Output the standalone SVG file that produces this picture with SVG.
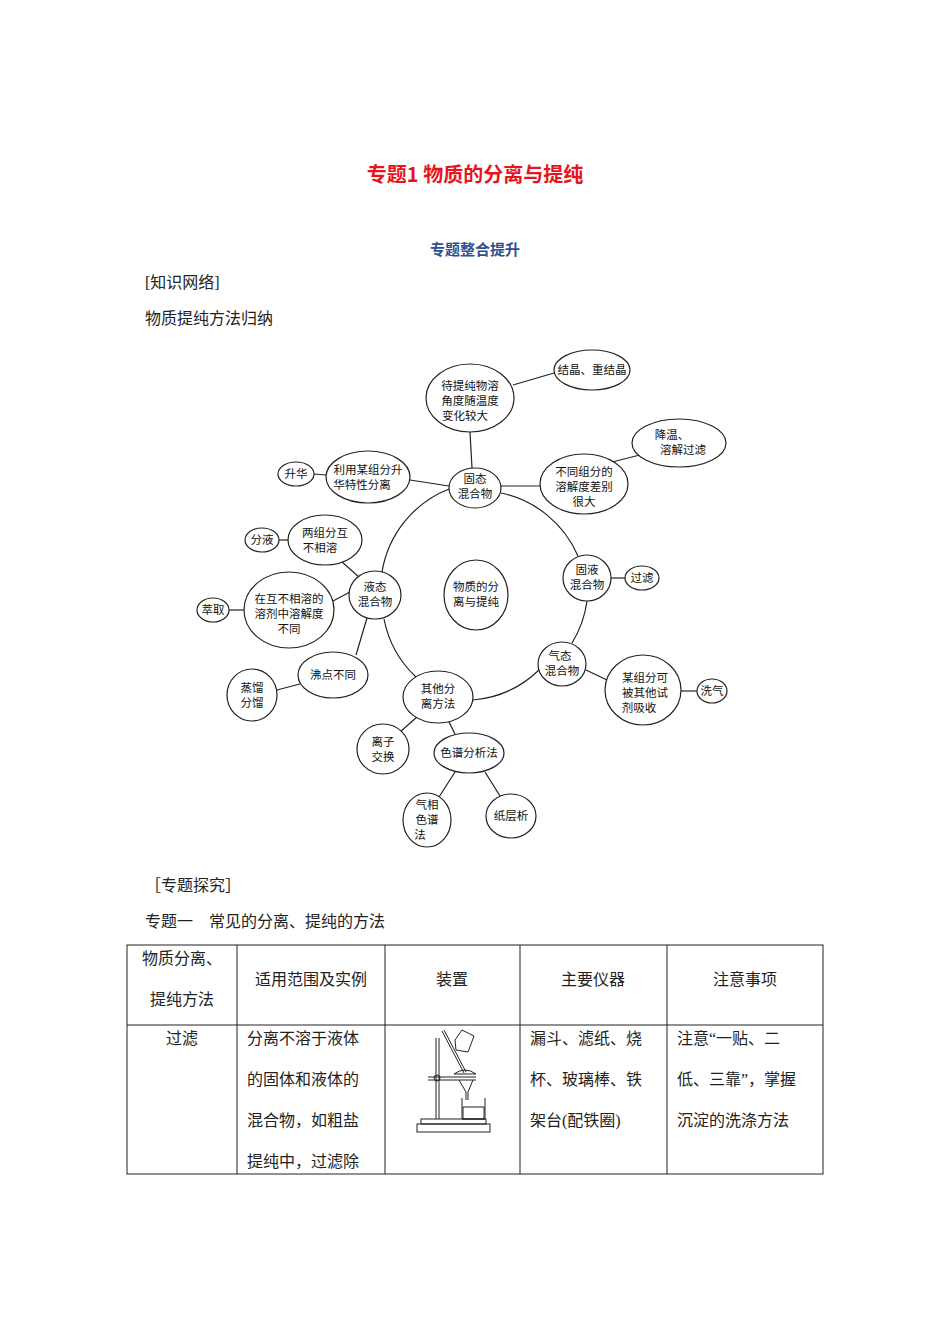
<svg xmlns="http://www.w3.org/2000/svg" width="950" height="1344" viewBox="0 0 950 1344">
<style>
.n ellipse{fill:#fff;stroke:#222;stroke-width:1.2}
.n text{font-family:"Liberation Serif","Noto Sans CJK SC",serif;font-size:11.5px;text-anchor:middle;fill:#111}
#conn path,#conn line{stroke:#222;stroke-width:1.2;fill:none}
.t{font-family:"Liberation Serif","Noto Sans CJK SC",serif;font-size:16px;fill:#222}
.tc{text-anchor:middle}
.g{stroke:#222;stroke-width:1;fill:none}
</style>
<rect width="950" height="1344" fill="#fff"/>
<text x="475" y="182" text-anchor="middle" font-family="'Noto Sans CJK SC',sans-serif" font-weight="bold" font-size="20" fill="#e8141b">专题1 物质的分离与提纯</text>
<text x="475" y="255" text-anchor="middle" font-family="'Noto Sans CJK SC',sans-serif" font-weight="bold" font-size="15" fill="#2f4f8f">专题整合提升</text>
<text class="t" x="145" y="288">[知识网络]</text>
<text class="t" x="145" y="324">物质提纯方法归纳</text>
<g id="conn">
<path d="M449,489 A108,108 0 0 0 382,572"/>
<path d="M501,493 A108,108 0 0 1 578,556"/>
<path d="M587,601 A108,108 0 0 1 572,643"/>
<path d="M539,670 A108,108 0 0 1 473,700"/>
<path d="M384,619 A108,108 0 0 0 416,677"/>
<line x1="470" y1="432" x2="472" y2="468"/>
<line x1="513" y1="385" x2="554" y2="373"/>
<line x1="501" y1="486" x2="540" y2="486"/>
<line x1="612" y1="462" x2="640" y2="455"/>
<line x1="410" y1="480" x2="449" y2="486"/>
<line x1="314" y1="474" x2="326" y2="475"/>
<line x1="279" y1="540" x2="288" y2="540"/>
<line x1="342" y1="562" x2="360" y2="578"/>
<line x1="229" y1="610" x2="244" y2="610"/>
<line x1="333" y1="601" x2="350" y2="592"/>
<line x1="367" y1="618" x2="356" y2="655"/>
<line x1="277" y1="690" x2="300" y2="684"/>
<line x1="611" y1="578" x2="625" y2="578"/>
<line x1="586" y1="670" x2="607" y2="680"/>
<line x1="681" y1="691" x2="697" y2="691"/>
<line x1="417" y1="717" x2="400" y2="732"/>
<line x1="449" y1="722" x2="455" y2="734"/>
<line x1="455" y1="772" x2="439" y2="797"/>
<line x1="485" y1="772" x2="500" y2="796"/>
</g>
<g id="n1" class="n"><ellipse cx="470" cy="398" rx="44" ry="34"/><text x="470" y="390">待提纯物溶</text><text x="470" y="405">角度随温度</text><text x="465" y="420">变化较大</text></g>
<g id="n2" class="n"><ellipse cx="592" cy="370" rx="38" ry="20"/><text x="592" y="374">结晶、重结晶</text></g>
<g id="n3" class="n"><ellipse cx="679" cy="443" rx="47" ry="24"/><text x="672" y="439">降温、</text><text x="683" y="454">溶解过滤</text></g>
<g id="n4" class="n"><ellipse cx="584" cy="484" rx="44" ry="30"/><text x="584" y="476">不同组分的</text><text x="584" y="491">溶解度差别</text><text x="584" y="506">很大</text></g>
<g id="n5" class="n"><ellipse cx="475" cy="488" rx="26" ry="20"/><text x="475" y="483">固态</text><text x="475" y="498">混合物</text></g>
<g id="n6" class="n"><ellipse cx="368" cy="477" rx="42" ry="26"/><text x="368" y="474">利用某组分升</text><text x="362" y="489">华特性分离</text></g>
<g id="n7" class="n"><ellipse cx="296" cy="474" rx="18" ry="12"/><text x="296" y="478">升华</text></g>
<g id="n8" class="n"><ellipse cx="325" cy="540" rx="37" ry="25"/><text x="325" y="537">两组分互</text><text x="320" y="552">不相溶</text></g>
<g id="n9" class="n"><ellipse cx="262" cy="540" rx="17" ry="12"/><text x="262" y="544">分液</text></g>
<g id="n10" class="n"><ellipse cx="375" cy="595" rx="26" ry="24"/><text x="375" y="591">液态</text><text x="375" y="606">混合物</text></g>
<g id="n11" class="n"><ellipse cx="289" cy="610" rx="45" ry="38"/><text x="289" y="603">在互不相溶的</text><text x="289" y="618">溶剂中溶解度</text><text x="289" y="633">不同</text></g>
<g id="n12" class="n"><ellipse cx="213" cy="610" rx="16" ry="12"/><text x="213" y="614">萃取</text></g>
<g id="n13" class="n"><ellipse cx="476" cy="595" rx="32" ry="35"/><text x="476" y="591">物质的分</text><text x="476" y="606">离与提纯</text></g>
<g id="n14" class="n"><ellipse cx="587" cy="578" rx="24" ry="23"/><text x="587" y="574">固液</text><text x="587" y="589">混合物</text></g>
<g id="n15" class="n"><ellipse cx="642" cy="578" rx="17" ry="12"/><text x="642" y="582">过滤</text></g>
<g id="n16" class="n"><ellipse cx="562" cy="664" rx="24" ry="22"/><text x="560" y="660">气态</text><text x="562" y="675">混合物</text></g>
<g id="n17" class="n"><ellipse cx="643" cy="690" rx="38" ry="35"/><text x="645" y="682">某组分可</text><text x="645" y="697">被其他试</text><text x="639" y="712">剂吸收</text></g>
<g id="n18" class="n"><ellipse cx="712" cy="691" rx="15" ry="12"/><text x="712" y="695">洗气</text></g>
<g id="n19" class="n"><ellipse cx="333" cy="675" rx="35" ry="23"/><text x="333" y="679">沸点不同</text></g>
<g id="n20" class="n"><ellipse cx="252" cy="695" rx="25" ry="26"/><text x="252" y="692">蒸馏</text><text x="252" y="707">分馏</text></g>
<g id="n21" class="n"><ellipse cx="438" cy="697" rx="35" ry="26"/><text x="438" y="693">其他分</text><text x="438" y="708">离方法</text></g>
<g id="n22" class="n"><ellipse cx="383" cy="749" rx="26" ry="25"/><text x="383" y="746">离子</text><text x="383" y="761">交换</text></g>
<g id="n23" class="n"><ellipse cx="469" cy="753" rx="35" ry="20"/><text x="469" y="757">色谱分析法</text></g>
<g id="n24" class="n"><ellipse cx="427" cy="820" rx="24" ry="27"/><text x="427" y="809">气相</text><text x="427" y="824">色谱</text><text x="420" y="839">法</text></g>
<g id="n25" class="n"><ellipse cx="511" cy="816" rx="25" ry="22"/><text x="511" y="820">纸层析</text></g>
<text class="t" x="145" y="891">［专题探究］</text>
<text class="t" x="145" y="927">专题一　常见的分离、提纯的方法</text>
<g id="table" class="g">
<rect x="127" y="945" width="696" height="229"/>
<line x1="127" y1="1025" x2="823" y2="1025"/>
<line x1="237" y1="945" x2="237" y2="1174"/>
<line x1="385" y1="945" x2="385" y2="1174"/>
<line x1="520" y1="945" x2="520" y2="1174"/>
<line x1="667" y1="945" x2="667" y2="1174"/>
</g>
<text class="t tc" x="182" y="964">物质分离、</text>
<text class="t tc" x="182" y="1005">提纯方法</text>
<text class="t tc" x="311" y="985">适用范围及实例</text>
<text class="t tc" x="452" y="985">装置</text>
<text class="t tc" x="593" y="985">主要仪器</text>
<text class="t tc" x="745" y="985">注意事项</text>
<text class="t tc" x="182" y="1044">过滤</text>
<text class="t" x="247" y="1044">分离不溶于液体</text>
<text class="t" x="247" y="1085">的固体和液体的</text>
<text class="t" x="247" y="1126">混合物，如粗盐</text>
<text class="t" x="247" y="1167">提纯中，过滤除</text>
<text class="t" x="530" y="1044">漏斗、滤纸、烧</text>
<text class="t" x="530" y="1085">杯、玻璃棒、铁</text>
<text class="t" x="530" y="1126">架台(配铁圈)</text>
<text class="t" x="677" y="1044">注意“一贴、二</text>
<text class="t" x="677" y="1085">低、三靠”，掌握</text>
<text class="t" x="677" y="1126">沉淀的洗涤方法</text>
<g id="apparatus" class="g">
<rect x="417" y="1124" width="73" height="8"/>
<rect x="421" y="1119" width="65" height="5"/>
<line x1="436" y1="1038" x2="436" y2="1119"/><line x1="439" y1="1038" x2="439" y2="1119"/>
<line x1="428" y1="1077" x2="476" y2="1077"/><line x1="428" y1="1080" x2="476" y2="1080"/>
<circle cx="437" cy="1078" r="3"/>
<path d="M454,1074 Q465,1066 476,1074 Z"/>
<path d="M459,1080 L466,1092 L466,1100"/><path d="M473,1080 L468,1092 L468,1100"/>
<path d="M462,1098 L462,1119 L485,1119 L485,1098"/>
<rect x="463" y="1107" width="21" height="12"/>
<line x1="442" y1="1031" x2="464" y2="1073"/><line x1="444" y1="1030" x2="466" y2="1072"/>
<path d="M455,1040 L462,1030 L474,1036 L468,1052 L456,1050 Z"/>
</g>
</svg>
